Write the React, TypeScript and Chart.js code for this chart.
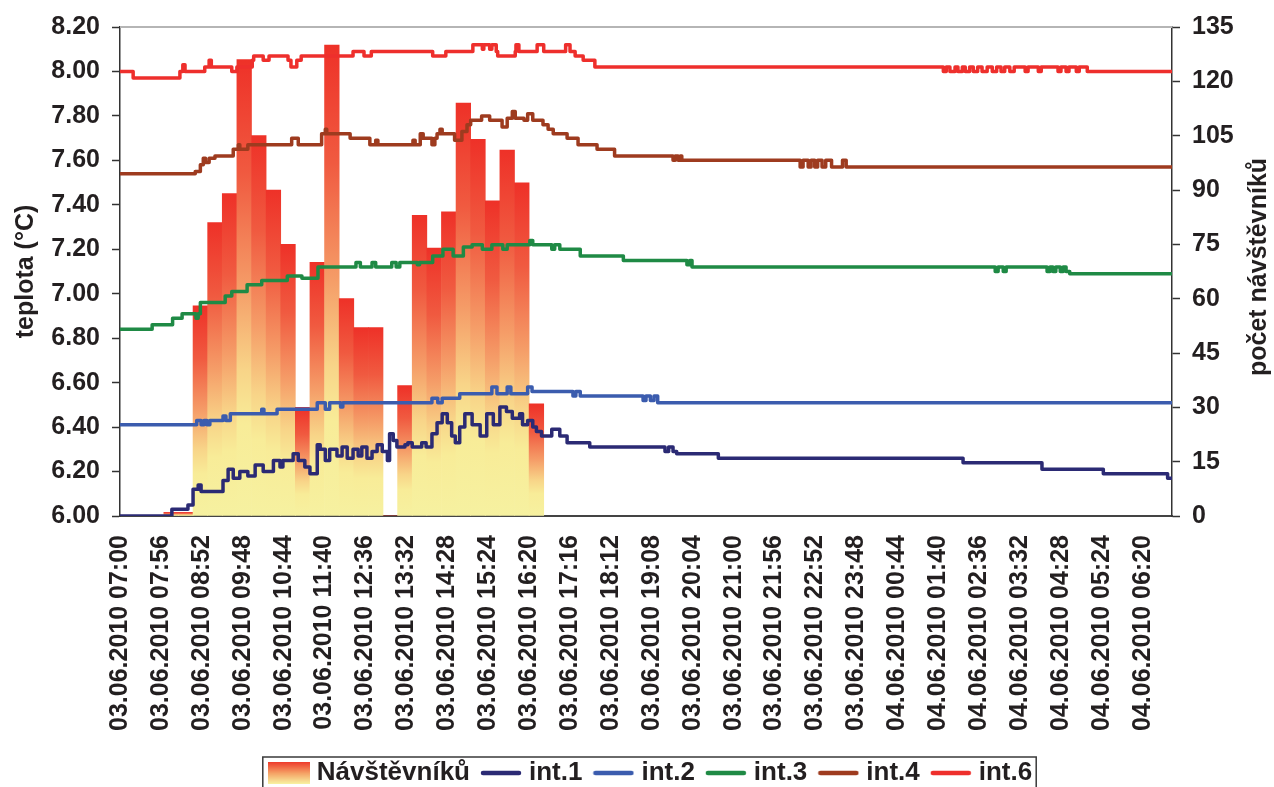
import React, { useEffect, useRef } from "react";
import { Chart, registerables } from "chart.js";

Chart.register(...registerables);

const FONT = '"Liberation Sans", Arial, Helvetica, sans-serif';
const TEXT = "#231f20";

// X axis: minutes after 03.06.2010 07:00
const xMaxMinutes = 1440;
const xTickStepMinutes = 56;
const xTickLabels = [
  "03.06.2010 07:00", "03.06.2010 07:56", "03.06.2010 08:52", "03.06.2010 09:48",
  "03.06.2010 10:44", "03.06.2010 11:40", "03.06.2010 12:36", "03.06.2010 13:32",
  "03.06.2010 14:28", "03.06.2010 15:24", "03.06.2010 16:20", "03.06.2010 17:16",
  "03.06.2010 18:12", "03.06.2010 19:08", "03.06.2010 20:04", "03.06.2010 21:00",
  "03.06.2010 21:56", "03.06.2010 22:52", "03.06.2010 23:48", "04.06.2010 00:44",
  "04.06.2010 01:40", "04.06.2010 02:36", "04.06.2010 03:32", "04.06.2010 04:28",
  "04.06.2010 05:24", "04.06.2010 06:20",
];

// Visitors (20-minute bins, start minute of each bin)
const visitorBinMinutes = 20;
const visitorBinStarts = [
  60, 80, 100, 120, 140, 160, 180, 200, 220, 240, 260, 280, 300,
  320, 340, 360, 380, 400, 420, 440, 460, 480, 500, 520, 540, 560,
];
const visitorCounts = [
  1, 1, 58, 81, 89, 126, 105, 90, 75, 30, 70, 130, 60,
  52, 52, 0, 36, 83, 74, 84, 114, 104, 87, 101, 92, 31,
];

// Temperature series: [minute, °C] change points
const int1Steps: [number, number][] = [
  [0, 6.0], [71, 6.03], [93, 6.05], [100, 6.12], [107, 6.14], [111, 6.11], [141, 6.16],
  [148, 6.21], [155, 6.17], [164, 6.2], [175, 6.18], [185, 6.23], [196, 6.2], [210, 6.25],
  [219, 6.22], [223, 6.25], [237, 6.28], [244, 6.25], [253, 6.22], [260, 6.19], [270, 6.32],
  [274, 6.3], [281, 6.25], [287, 6.3], [297, 6.27], [304, 6.31], [311, 6.26], [319, 6.3],
  [326, 6.27], [331, 6.31], [338, 6.26], [345, 6.29], [352, 6.32], [359, 6.29], [366, 6.25],
  [369, 6.37], [374, 6.34], [379, 6.31], [390, 6.32], [394, 6.33], [400, 6.31], [413, 6.33],
  [419, 6.31], [427, 6.37], [434, 6.42], [441, 6.46], [448, 6.42], [454, 6.36], [459, 6.33],
  [465, 6.4], [472, 6.46], [482, 6.41], [493, 6.36], [502, 6.46], [511, 6.41], [520, 6.49],
  [529, 6.47], [537, 6.44], [547, 6.46], [551, 6.41], [558, 6.43], [565, 6.4], [570, 6.38],
  [577, 6.36], [591, 6.39], [602, 6.36], [612, 6.33], [643, 6.31], [746, 6.29], [751, 6.31],
  [757, 6.29], [762, 6.28], [819, 6.26], [1154, 6.24], [1262, 6.21], [1346, 6.19],
  [1434, 6.17], [1440, 6.17],
];
const int2Steps: [number, number][] = [
  [0, 6.41], [105, 6.43], [111, 6.41], [115, 6.43], [119, 6.41], [123, 6.43], [141, 6.45],
  [145, 6.43], [151, 6.46], [194, 6.48], [197, 6.46], [215, 6.48], [270, 6.51], [281, 6.48],
  [287, 6.51], [302, 6.49], [305, 6.51], [427, 6.53], [435, 6.51], [441, 6.53], [465, 6.55],
  [509, 6.58], [516, 6.55], [530, 6.58], [535, 6.55], [558, 6.58], [564, 6.56], [620, 6.54],
  [624, 6.56], [630, 6.54], [716, 6.52], [720, 6.54], [726, 6.52], [731, 6.54], [736, 6.51],
  [1440, 6.51],
];
const int3Steps: [number, number][] = [
  [0, 6.84], [44, 6.86], [72, 6.89], [85, 6.91], [104, 6.89], [107, 6.91], [110, 6.96],
  [144, 6.99], [153, 7.01], [174, 7.04], [194, 7.06], [229, 7.08], [249, 7.07], [271, 7.12],
  [323, 7.14], [329, 7.12], [345, 7.14], [350, 7.12], [372, 7.14], [378, 7.12], [383, 7.14],
  [407, 7.13], [410, 7.14], [428, 7.17], [442, 7.2], [456, 7.17], [470, 7.21], [482, 7.22],
  [496, 7.2], [509, 7.22], [524, 7.2], [530, 7.22], [561, 7.24], [565, 7.22], [591, 7.2],
  [595, 7.22], [602, 7.2], [630, 7.17], [689, 7.15], [776, 7.13], [780, 7.15], [783, 7.12],
  [1198, 7.1], [1202, 7.12], [1209, 7.1], [1213, 7.12], [1269, 7.1], [1273, 7.12],
  [1277, 7.1], [1281, 7.12], [1287, 7.1], [1291, 7.12], [1295, 7.1], [1300, 7.09],
  [1440, 7.09],
];
const int4Steps: [number, number][] = [
  [0, 7.54], [103, 7.55], [110, 7.58], [114, 7.61], [117, 7.59], [122, 7.61], [130, 7.62],
  [155, 7.65], [162, 7.67], [164, 7.65], [175, 7.67], [235, 7.7], [244, 7.67], [276, 7.72],
  [281, 7.74], [283, 7.72], [315, 7.7], [342, 7.67], [350, 7.69], [353, 7.67], [401, 7.69],
  [404, 7.67], [411, 7.72], [415, 7.7], [427, 7.67], [431, 7.7], [434, 7.72], [438, 7.74],
  [441, 7.72], [458, 7.69], [468, 7.73], [475, 7.76], [480, 7.78], [495, 7.8], [506, 7.78],
  [523, 7.75], [530, 7.79], [537, 7.82], [541, 7.79], [553, 7.78], [558, 7.81], [565, 7.78],
  [579, 7.76], [586, 7.74], [593, 7.72], [612, 7.7], [627, 7.67], [653, 7.65], [677, 7.62],
  [757, 7.6], [760, 7.62], [764, 7.6], [767, 7.62], [769, 7.6], [931, 7.57], [935, 7.6],
  [942, 7.57], [946, 7.6], [951, 7.57], [955, 7.6], [961, 7.57], [966, 7.6], [974, 7.57],
  [989, 7.6], [994, 7.57], [1440, 7.57],
];
const int6Steps: [number, number][] = [
  [0, 8.0], [18, 7.97], [82, 8.0], [86, 8.03], [89, 8.0], [116, 8.02], [122, 8.05],
  [125, 8.02], [153, 8.0], [160, 8.02], [181, 8.05], [183, 8.07], [196, 8.05], [204, 8.07],
  [230, 8.05], [234, 8.02], [242, 8.05], [248, 8.07], [319, 8.09], [334, 8.07], [344, 8.09],
  [428, 8.07], [446, 8.09], [483, 8.12], [496, 8.1], [498, 8.12], [506, 8.1], [509, 8.12],
  [515, 8.09], [517, 8.07], [541, 8.09], [542, 8.12], [546, 8.09], [571, 8.12], [580, 8.09],
  [610, 8.12], [616, 8.09], [623, 8.07], [634, 8.05], [650, 8.02], [1127, 8.0], [1131, 8.02],
  [1136, 8.0], [1143, 8.02], [1147, 8.0], [1153, 8.02], [1157, 8.0], [1163, 8.02], [1168, 8.0],
  [1174, 8.02], [1180, 8.0], [1187, 8.02], [1194, 8.0], [1200, 8.02], [1206, 8.0], [1211, 8.02],
  [1218, 8.0], [1224, 8.02], [1239, 8.0], [1243, 8.02], [1257, 8.0], [1261, 8.02], [1284, 8.0],
  [1288, 8.02], [1295, 8.0], [1299, 8.02], [1309, 8.0], [1313, 8.02], [1324, 8.0], [1440, 8.0],
];

const seriesNames = ["int.1", "int.2", "int.3", "int.4", "int.6"];
const seriesColors = ["#2b2a74", "#3b5cae", "#1f8a45", "#9e3b1f", "#ee2f2c"];
const seriesSteps = [int1Steps, int2Steps, int3Steps, int4Steps, int6Steps];
const barLabel = "Návštěvníků";
const leftTitle = "teplota (°C)";
const rightTitle = "počet návštěvníků";

const barStops: [number, string][] = [
  [0, "#ee3128"], [0.25, "#f05a40"], [0.5, "#f59d68"], [0.68, "#f8d488"],
  [0.8, "#f8ec98"], [1, "#f6f1a0"],
];

function makeImage(draw: (g: CanvasRenderingContext2D) => void) {
  const c = document.createElement("canvas");
  c.width = 42;
  c.height = 22;
  const g = c.getContext("2d")!;
  draw(g);
  return c;
}

const extrasPlugin = {
  id: "extras",
  afterLayout(chart: any) {
    const lg = chart.legend;
    if (lg) {
      lg.left += 16;
      lg.right += 16;
    }
  },
  afterDraw(chart: any) {
    const { ctx, chartArea } = chart;
    ctx.save();
    ctx.strokeStyle = "#b5b5b5";
    ctx.lineWidth = 2;
    ctx.beginPath();
    ctx.moveTo(chartArea.left, chartArea.top);
    ctx.lineTo(chartArea.right, chartArea.top);
    ctx.stroke();
    ctx.restore();

    ctx.save();
    ctx.fillStyle = TEXT;
    ctx.font = `bold 25px ${FONT}`;
    ctx.translate(1259, 267);
    ctx.rotate(-Math.PI / 2);
    ctx.textAlign = "center";
    ctx.textBaseline = "middle";
    ctx.fillText(rightTitle, 0, 0);
    ctx.restore();

    const hb = chart.legend && chart.legend.legendHitBoxes;
    if (hb && hb.length) {
      const first = hb[0];
      const last = hb[hb.length - 1];
      ctx.save();
      ctx.strokeStyle = "#3a3a3a";
      ctx.lineWidth = 1.5;
      const l = first.left - 11;
      const t = first.top - 3;
      const r = last.left + last.width + 4;
      ctx.strokeRect(l, t, r - l, 60);
      ctx.restore();
    }
  },
};

export default function App() {
  const ref = useRef<HTMLCanvasElement>(null);

  useEffect(() => {
    document.body.style.margin = "0";
    const canvas = ref.current;
    if (!canvas) return;

    const swatch = makeImage((g) => {
      const grad = g.createLinearGradient(0, 0, 0, 22);
      grad.addColorStop(0, "#ee3a2b");
      grad.addColorStop(0.5, "#f5a064");
      grad.addColorStop(1, "#f8f3a2");
      g.fillStyle = grad;
      g.fillRect(0, 0, 42, 22);
    });
    const lineImgs = seriesColors.map((col) =>
      makeImage((g) => {
        g.strokeStyle = col;
        g.lineWidth = 4.5;
        g.lineCap = "round";
        g.beginPath();
        g.moveTo(3, 11);
        g.lineTo(39, 11);
        g.stroke();
      })
    );
    const legendImages = [swatch, ...lineImgs];
    const legendTexts = [barLabel, ...seriesNames];

    const barData = visitorBinStarts.map((s, i) => ({
      x: s + visitorBinMinutes / 2,
      y: visitorCounts[i],
    }));

    const lineDatasets = seriesSteps.map((steps, i) => ({
      type: "line" as const,
      label: seriesNames[i],
      data: steps.map(([m, v]) => ({ x: m, y: v })),
      yAxisID: "y",
      borderColor: seriesColors[i],
      backgroundColor: seriesColors[i],
      borderWidth: 3.5,
      borderJoinStyle: "round" as const,
      borderCapStyle: "round" as const,
      stepped: true,
      pointRadius: 0,
      pointHoverRadius: 0,
      fill: false,
      order: 0,
    }));

    const chart = new Chart(canvas, {
      type: "bar",
      data: {
        datasets: [
          {
            type: "bar" as const,
            label: barLabel,
            data: barData as any,
            yAxisID: "y2",
            barPercentage: 1,
            categoryPercentage: 1,
            borderWidth: 0,
            order: 1,
            backgroundColor: (c: any) => {
              const fallback = "#ee3128";
              if (c.type !== "data" || !c.parsed) return fallback;
              const chart = c.chart;
              const s = chart.scales && chart.scales.y2;
              if (!s || !chart.chartArea) return fallback;
              const top = s.getPixelForValue(c.parsed.y);
              const base = s.getPixelForValue(0);
              if (!isFinite(top) || !isFinite(base) || base - top < 1) return fallback;
              const g = chart.ctx.createLinearGradient(0, top, 0, base);
              barStops.forEach(([p, col]) => g.addColorStop(p, col));
              return g;
            },
          },
          ...(lineDatasets as any[]),
        ],
      },
      options: {
        responsive: false,
        animation: false,
        events: [],
        layout: { padding: { left: 0, right: 0, top: 24, bottom: -9 } },
        font: { family: FONT },
        plugins: {
          tooltip: { enabled: false },
          legend: {
            position: "bottom",
            labels: {
              usePointStyle: true,
              pointStyleWidth: 30,
              padding: 16,
              color: TEXT,
              font: { family: FONT, size: 26, weight: "bold" },
              generateLabels: () =>
                legendTexts.map((t, i) => ({
                  text: t,
                  pointStyle: legendImages[i] as any,
                  fillStyle: "rgba(0,0,0,0)",
                  strokeStyle: "rgba(0,0,0,0)",
                  lineWidth: 0,
                  hidden: false,
                  datasetIndex: i,
                  fontColor: TEXT,
                })),
            },
          },
        },
        scales: {
          x: {
            type: "linear",
            min: 0,
            max: xMaxMinutes,
            offset: false,
            grid: { display: false, drawTicks: false, offset: false },
            border: { display: true, color: "#444", width: 2 },
            afterBuildTicks: (scale: any) => {
              scale.ticks = xTickLabels.map((_, i) => ({ value: i * xTickStepMinutes }));
            },
            afterFit: (scale: any) => {
              scale.height = 228;
            },
            ticks: {
              autoSkip: false,
              minRotation: 90,
              maxRotation: 90,
              padding: 19,
              color: TEXT,
              font: { family: FONT, size: 25, weight: "bold" },
              callback: (_v: any, i: number) => xTickLabels[i],
            },
          },
          y: {
            type: "linear",
            position: "left",
            min: 6,
            max: 8.2,
            grid: {
              display: true,
              drawOnChartArea: false,
              drawTicks: true,
              tickLength: 8,
              tickColor: "#333",
              tickWidth: 1.5,
            },
            border: { display: true, color: "#333", width: 1.5 },
            afterFit: (scale: any) => {
              scale.width = 120;
            },
            ticks: {
              stepSize: 0.2,
              padding: 12,
              color: TEXT,
              font: { family: FONT, size: 25, weight: "bold" },
              callback: (v: any) => Number(v).toFixed(2),
            },
            title: {
              display: true,
              text: leftTitle,
              color: TEXT,
              font: { family: FONT, size: 25, weight: "bold" },
              padding: { top: 11, bottom: 0 },
            },
          },
          y2: {
            type: "linear",
            position: "right",
            min: 0,
            max: 135,
            grid: {
              display: true,
              drawOnChartArea: false,
              drawTicks: true,
              tickLength: 8,
              tickColor: "#333",
              tickWidth: 1.5,
            },
            border: { display: true, color: "#333", width: 1.5 },
            afterFit: (scale: any) => {
              scale.width = 102;
            },
            ticks: {
              stepSize: 15,
              padding: 12,
              color: TEXT,
              font: { family: FONT, size: 25, weight: "bold" },
            },
          },
        },
      } as any,
      plugins: [extrasPlugin as any],
    });

    return () => chart.destroy();
  }, []);

  return (
    <div style={{ width: 1274, height: 787, overflow: "hidden" }}>
      <canvas ref={ref} width={1274} height={787} style={{ display: "block" }} />
    </div>
  );
}
